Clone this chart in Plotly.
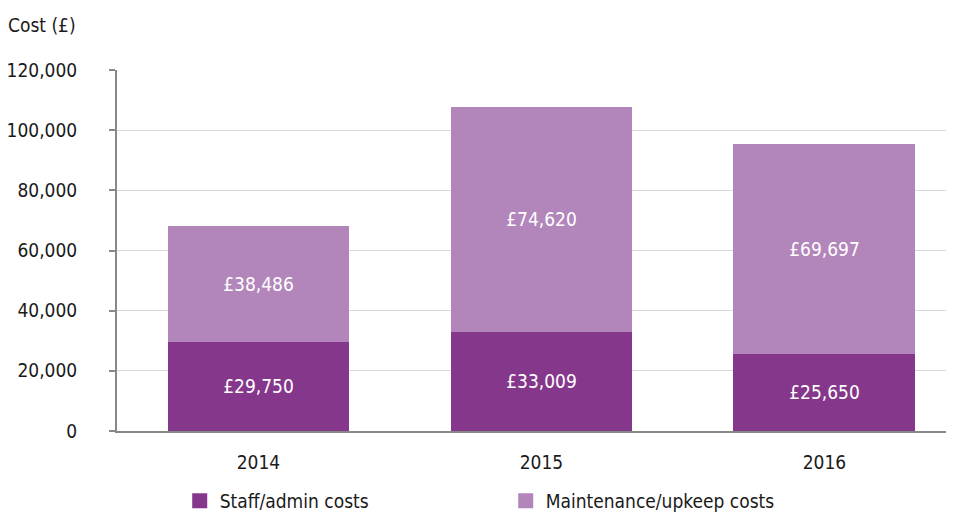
import plotly.graph_objects as go

years = ["2014", "2015", "2016"]
staff_costs = [29750, 33009, 25650]
maintenance_costs = [38486, 74620, 69697]
y_ticks = [0, 20000, 40000, 60000, 80000, 100000, 120000]
y_tick_labels = ["0", "20,000", "40,000", "60,000", "80,000", "100,000", "120,000"]

FONT = "DejaVu Sans Condensed, Roboto Condensed, Liberation Sans Narrow, Roboto, sans-serif"
DARK = "#85378B"
LIGHT = "#B286BA"

fig = go.Figure()
fig.add_trace(go.Bar(
    x=years, y=staff_costs, name="Staff/admin costs", showlegend=False,
    marker=dict(color=DARK, line=dict(width=0)),
    texttemplate="£%{y:,}", textposition="inside", insidetextanchor="middle",
    textfont=dict(color="white", size=19, family=FONT),
))
fig.add_trace(go.Bar(
    x=years, y=maintenance_costs, name="Maintenance/upkeep costs", showlegend=False,
    marker=dict(color=LIGHT, line=dict(width=0)),
    texttemplate="£%{y:,}", textposition="inside", insidetextanchor="middle",
    textfont=dict(color="white", size=19, family=FONT),
))
# legend entries (square swatches)
for name, col in [("Staff/admin costs", DARK), ("Maintenance/upkeep costs", LIGHT)]:
    fig.add_trace(go.Scatter(
        x=[None], y=[None], mode="markers", name=name,
        marker=dict(symbol="square", size=15, color=col),
    ))

fig.update_layout(
    barmode="stack",
    bargap=0.357,
    width=954, height=512,
    margin=dict(l=109, r=0, t=62, b=89, autoexpand=False),
    plot_bgcolor="white", paper_bgcolor="white",
    font=dict(family=FONT, size=19, color="#1a1a1a"),
    showlegend=True,
    legend=dict(
        orientation="h", xref="container", yref="container",
        x=0.180, y=0.0, xanchor="left", yanchor="bottom",
        entrywidth=281, entrywidthmode="pixels",
        font=dict(size=19), itemsizing="trace",
        traceorder="normal",
    ),
    xaxis=dict(
        type="category", range=[-0.5, 2.486], automargin=False,
        showline=True, linecolor="#888888", linewidth=2,
        ticks="", ticklabelstandoff=13,
        tickfont=dict(size=19),
    ),
    yaxis=dict(
        range=[0, 120000], tickvals=y_ticks, ticktext=y_tick_labels,
        automargin=False,
        showline=True, linecolor="#888888", linewidth=2,
        ticks="outside", ticklen=6, tickcolor="#888888", tickwidth=2,
        showgrid=True, gridcolor="#d9d9d9", gridwidth=1,
        ticklabelstandoff=28, zeroline=False,
        tickfont=dict(size=19),
    ),
    annotations=[dict(
        text="Cost (£)", xref="paper", yref="paper", x=0, y=1,
        xshift=-111, yshift=45, xanchor="left", yanchor="middle",
        showarrow=False, font=dict(size=19, family=FONT),
    )],
)

fig.write_html("out.html")
